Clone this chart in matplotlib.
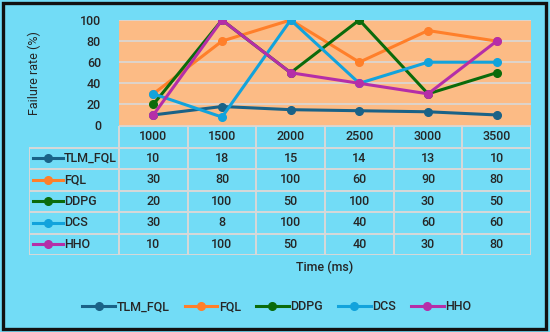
import matplotlib
matplotlib.use("Agg")
import matplotlib.pyplot as plt
from matplotlib.lines import Line2D
from matplotlib.patches import Rectangle

times = ["1000", "1500", "2000", "2500", "3000", "3500"]
series_names = ["TLM_FQL", "FQL", "DDPG", "DCS", "HHO"]
tlm_fql = [10, 18, 15, 14, 13, 10]
fql = [30, 80, 100, 60, 90, 80]
ddpg = [20, 100, 50, 100, 30, 50]
dcs = [30, 8, 100, 40, 60, 60]
hho = [10, 100, 50, 40, 30, 80]
series_values = [tlm_fql, fql, ddpg, dcs, hho]
colors = ["#1a6287", "#ff7f2a", "#0b6b0b", "#12a3dc", "#b52ea8"]
yticks = [0, 20, 40, 60, 80, 100]

W, H = 550, 332
BG = "#72dcf6"
PLOT_BG = "#fcbb85"
GRID = "#d8d8d8"
TXT = "#262626"
FS = 9
plt.rcParams['font.family'] = ['Roboto', 'DejaVu Sans']
plt.rcParams['font.weight'] = 'medium'

fig = plt.figure(figsize=(W / 100, H / 100), dpi=100)
fig.patch.set_facecolor(BG)

def fx(px):
    return px / W

def fy(py):
    return 1 - py / H

# plot area
L, R, T, B = 119, 531, 20, 125.5
ax = fig.add_axes([fx(L), fy(B), fx(R - L), (B - T) / H])
ax.set_facecolor(PLOT_BG)
n = len(times)
x = list(range(n))
for name, vals, c in zip(series_names, series_values, colors):
    ax.plot(x, vals, color=c, lw=2.2, marker="o", ms=5.5, label=name, zorder=3)
ax.set_xlim(-0.5, n - 0.5)
ax.set_ylim(0, 100)
ax.set_yticks(yticks)
ax.set_yticklabels([str(v) for v in yticks], fontsize=FS, color=TXT)
ax.set_xticks([])
ax.yaxis.grid(True, color=GRID, lw=1.2)
ax.set_axisbelow(True)
ax.tick_params(axis="y", length=0, pad=13)
for s in ax.spines.values():
    s.set_visible(False)
ax.set_ylabel("Failure rate (%)", fontsize=FS, color=TXT, labelpad=28)

# data table
TL, TT, TB = 29, 126, 255
tax = fig.add_axes([fx(TL), fy(TB), fx(R - TL), (TB - TT) / H])
tax.set_xlim(TL, R)
tax.set_ylim(TB, TT)
tax.axis("off")
tax.patch.set_alpha(0)
nrows = len(series_names) + 1
rh = (TB - TT) / nrows
cw = (R - L) / n
lc = dict(color=GRID, lw=1.4)
tax.plot([L, R], [TT, TT], **lc)
for i, t in enumerate(times):
    tax.text(L + cw * (i + 0.5), TT + rh / 2, t, ha="center", va="center", fontsize=FS, color=TXT)
for r in range(1, nrows + 1):
    y = TT + rh * r
    tax.plot([TL, R], [y, y], **lc)
tax.plot([TL, TL], [TT + rh, TB], **lc)
for i in range(n + 1):
    tax.plot([L + cw * i, L + cw * i], [TT, TB], **lc)
for r, (name, vals, c) in enumerate(zip(series_names, series_values, colors)):
    yc = TT + rh * (r + 1.5)
    tax.add_line(Line2D([TL + 4, TL + 34], [yc, yc], color=c, lw=2.2))
    tax.plot([TL + 19], [yc], marker="o", ms=5.5, color=c)
    tax.text(TL + 35, yc, name, ha="left", va="center", fontsize=FS, color=TXT)
    for i, v in enumerate(vals):
        tax.text(L + cw * (i + 0.5), yc, str(v), ha="center", va="center", fontsize=FS, color=TXT)

fig.text(fx(325), fy(267), "Time (ms)", ha="center", va="center", fontsize=FS, color=TXT)

handles = [Line2D([0], [0], color=c, lw=2.2, marker="o", ms=5.5) for c in colors]
fig.legend(handles, series_names, loc="center", bbox_to_anchor=(fx(277), fy(307)),
           ncol=5, frameon=False, fontsize=FS, handlelength=2.6, handletextpad=0.15,
           columnspacing=1.2, labelcolor=TXT)

fig.patches.append(Rectangle((fx(2.5), fy(328.5)), fx(543.5), 325.5 / H, transform=fig.transFigure,
                             fill=False, edgecolor="#111111", lw=2.4, zorder=10))

fig.savefig("out.png", dpi=100, facecolor=BG)
